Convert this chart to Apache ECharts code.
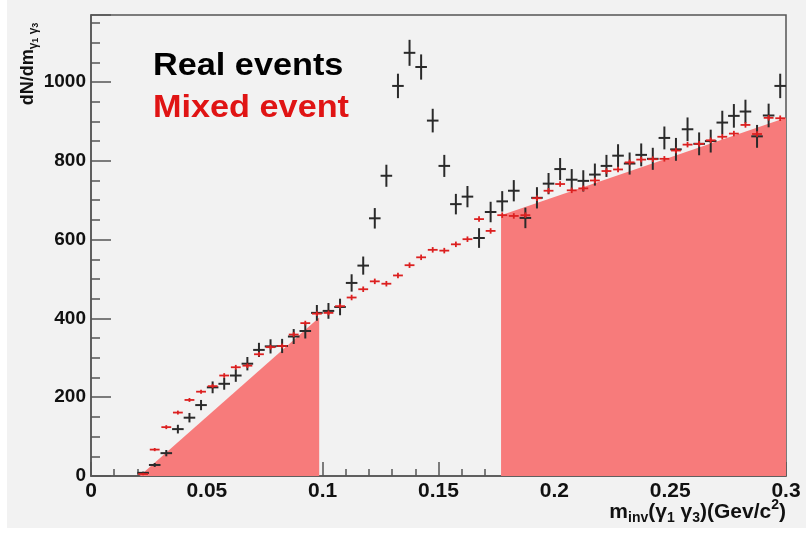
<!DOCTYPE html>
<html>
<head>
<meta charset="utf-8">
<script src="https://cdn.jsdelivr.net/npm/echarts@6/dist/echarts.min.js"></script>
<style>
  html, body { margin: 0; padding: 0; background: #ffffff; }
  #bg { position: absolute; left: 7px; top: 0px; width: 799px; height: 528px; background: #f2f2f2; }
  #chart { position: absolute; left: 0; top: 0; width: 809px; height: 533px; }
</style>
</head>
<body>
<div id="bg"></div>
<div id="chart"></div>
<script>
// bin centres (GeV/c^2)
const binCenters = [0.0225,0.0275,0.0325,0.0375,0.0425,0.0475,0.0525,0.0575,0.0625,0.0675,
  0.0725,0.0775,0.0825,0.0875,0.0925,0.0975,0.1025,0.1075,0.1125,0.1175,
  0.1225,0.1275,0.1325,0.1375,0.1425,0.1475,0.1525,0.1575,0.1625,0.1675,
  0.1725,0.1775,0.1825,0.1875,0.1925,0.1975,0.2025,0.2075,0.2125,0.2175,
  0.2225,0.2275,0.2325,0.2375,0.2425,0.2475,0.2525,0.2575,0.2625,0.2675,
  0.2725,0.2775,0.2825,0.2875,0.2925,0.2975];
// Real events counts
const realCounts = [8,28,58,119,148,180,225,234,255,285,
  320,329,330,354,368,414,419,429,490,534,
  654,762,990,1074,1038,902,787,690,709,604,
  670,697,724,655,706,742,779,752,749,765,
  787,813,793,815,805,858,829,880,843,850,
  897,914,925,862,915,990];
// Real events error bars (half height)
const realErrors = [3,5,8,11,12,13,15,15,16,17,
  18,18,18,19,19,20,20,21,22,23,
  26,28,31,33,32,30,28,26,27,25,
  26,26,27,26,27,27,28,27,27,28,
  28,29,28,29,28,29,29,30,29,29,
  30,30,30,29,30,31];
// Mixed event counts
const mixedCounts = [5,67,124,161,193,214,228,255,276,280,
  309,327,330,359,388,412,414,431,453,474,
  494,488,509,535,555,574,572,588,601,652,
  622,662,660,662,705,724,741,725,730,750,
  774,778,796,803,804,805,826,841,843,852,
  861,869,891,868,909,908];
const mixedErrors = [3,4,5,5,5,5,5,6,6,6,
  6,6,6,6,6,6,6,6,7,7,
  7,7,7,7,7,7,7,7,7,7,
  7,7,7,7,7,7,7,7,7,7,
  7,7,7,7,7,7,7,7,7,7,
  7,7,7,7,7,7];
// Background fit regions (filled)
const leftFitX = [0.021, 0.0985];
const leftFitY = [0, 402];
const rightFitX = [0.177, 0.3];
const rightFitY = [662, 909];
// axis tick labels
const xTickLabels = ['0','0.05','0.1','0.15','0.2','0.25','0.3'];
const yTickLabels = ['0','200','400','600','800','1000'];

const halfBin = 0.0025;

function crossSeries(name, xs, ys, es, color, hw, lw) {
  return {
    type: 'custom',
    name: name,
    data: xs.map((x, i) => [x, ys[i], es[i]]),
    renderItem: function (params, api) {
      const x = api.value(0), y = api.value(1), e = api.value(2);
      const l = api.coord([x - hw, y]), r = api.coord([x + hw, y]);
      const t = api.coord([x, y + e]), b = api.coord([x, y - e]);
      return {
        type: 'group',
        children: [
          { type: 'line', shape: { x1: l[0], y1: l[1], x2: r[0], y2: r[1] }, style: { stroke: color, lineWidth: lw } },
          { type: 'line', shape: { x1: t[0], y1: t[1], x2: b[0], y2: b[1] }, style: { stroke: color, lineWidth: lw } }
        ]
      };
    },
    z: 5
  };
}

const chart = echarts.init(document.getElementById('chart'), null, { renderer: 'canvas' });
const FF = 'Liberation Sans, Arial, sans-serif';

chart.setOption({
  animation: false,
  backgroundColor: 'transparent',
  grid: { left: 91, right: 23, top: 15, bottom: 57, show: true, borderColor: '#555', borderWidth: 1.5, backgroundColor: 'transparent' },
  xAxis: {
    type: 'value', min: 0, max: 0.3, interval: 0.05,
    axisLine: { show: true, lineStyle: { color: '#555', width: 1.5 } },
    axisTick: { show: true, inside: true, length: 14, lineStyle: { color: '#555', width: 1.5 } },
    minorTick: { show: true, splitNumber: 5, length: 7, lineStyle: { color: '#555', width: 1.5 } },
    splitLine: { show: false },
    axisLabel: { margin: 5, fontFamily: FF, fontWeight: 'bold', fontSize: 21, color: '#111',
      formatter: v => xTickLabels[Math.round(v / 0.05)] }
  },
  yAxis: {
    type: 'value', min: 0, max: 1170, interval: 200,
    axisLine: { show: true, lineStyle: { color: '#555', width: 1.5 } },
    axisTick: { show: true, inside: true, length: 20, lineStyle: { color: '#555', width: 1.5 } },
    minorTick: { show: true, splitNumber: 4, length: 9, lineStyle: { color: '#555', width: 1.5 } },
    splitLine: { show: false },
    axisLabel: { margin: 5, showMaxLabel: false, fontFamily: FF, fontWeight: 'bold', fontSize: 19, color: '#111',
      formatter: v => (v % 200 === 0 ? yTickLabels[v / 200] : '') }
  },
  series: [
    {
      type: 'line', data: leftFitX.map((x, i) => [x, leftFitY[i]]), symbol: 'none',
      lineStyle: { width: 0 }, areaStyle: { color: '#f77b7b', opacity: 1 }, z: 1
    },
    {
      type: 'line', data: rightFitX.map((x, i) => [x, rightFitY[i]]), symbol: 'none',
      lineStyle: { width: 0 }, areaStyle: { color: '#f77b7b', opacity: 1 }, z: 1
    },
    crossSeries('Real events', binCenters, realCounts, realErrors, '#2a2a2a', halfBin, 2),
    crossSeries('Mixed event', binCenters, mixedCounts, mixedErrors, '#dc2020', halfBin * 0.85, 1.8)
  ],
  graphic: [
    {
      type: 'text', left: 153, top: 50, scaleX: 1.07,
      style: { text: 'Real events', fontFamily: FF, fontWeight: 'bold', fontSize: 32, fill: '#000' }
    },
    {
      type: 'text', left: 153, top: 92, scaleX: 1.07,
      style: { text: 'Mixed event', fontFamily: FF, fontWeight: 'bold', fontSize: 32, fill: '#e01414' }
    },
    {
      type: 'text', x: 786, y: 512,
      style: {
        text: '{m|m}{s|inv}{m|(γ}{s|1}{m| γ}{s|3}{m|)(Gev/c}{p|2}{m|)}',
        align: 'right', verticalAlign: 'middle',
        rich: {
          m: { fontFamily: FF, fontWeight: 'bold', fontSize: 21, lineHeight: 27, fill: '#111', verticalAlign: 'middle' },
          s: { fontFamily: FF, fontWeight: 'bold', fontSize: 14, lineHeight: 14, fill: '#111', verticalAlign: 'bottom' },
          p: { fontFamily: FF, fontWeight: 'bold', fontSize: 14, lineHeight: 14, fill: '#111', verticalAlign: 'top' }
        }
      }
    },
    {
      type: 'text', x: 28, y: 64, rotation: Math.PI / 2,
      style: {
        text: '{m|dN/dm}{s|γ}{ss|1}{s| γ}{ss|3}',
        align: 'center', verticalAlign: 'middle',
        rich: {
          m: { fontFamily: FF, fontWeight: 'bold', fontSize: 18, lineHeight: 24, fill: '#111', verticalAlign: 'middle' },
          s: { fontFamily: FF, fontWeight: 'bold', fontSize: 12, lineHeight: 15, fill: '#111', verticalAlign: 'bottom' },
          ss: { fontFamily: FF, fontWeight: 'bold', fontSize: 9, lineHeight: 11, fill: '#111', verticalAlign: 'bottom' }
        }
      }
    }
  ]
});
</script>
</body>
</html>
